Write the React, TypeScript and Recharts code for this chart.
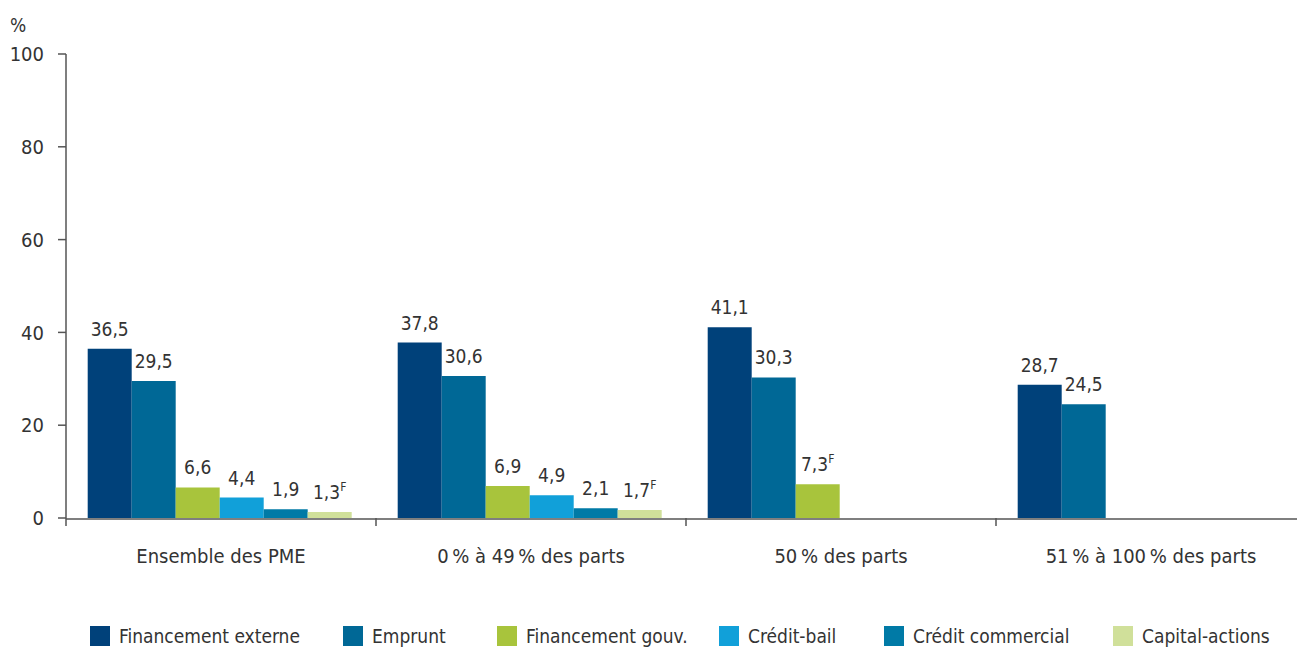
import { BarChart, Bar, XAxis, YAxis, Legend, LabelList } from 'recharts'

const categories = ['Ensemble des PME', '0\u202f% à 49\u202f% des parts', '50\u202f% des parts', '51\u202f% à 100\u202f% des parts']
const seriesNames = ['Financement externe', 'Emprunt', 'Financement gouv.', 'Crédit-bail', 'Crédit commercial', 'Capital-actions']
const financementExterne = [36.5, 37.8, 41.1, 28.7]
const emprunt = [29.5, 30.6, 30.3, 24.5]
const financementGouv = [6.6, 6.9, 7.3, null]
const creditBail = [4.4, 4.9, null, null]
const creditCommercial = [1.9, 2.1, null, null]
const capitalActions = [1.3, 1.7, null, null]
// "F" = estimation à utiliser avec prudence
const gouvFlags = [false, false, true, false]
const capitalFlags = [true, true, false, false]
const yTicks = [0, 20, 40, 60, 80, 100]
const boundaryTicks = [0, 1, 2, 3, 4]

const colors = ['#00417a', '#006896', '#a8c43c', '#11a0d9', '#007aa6', '#d0e09a']
const legendWidths = [253, 154, 222, 165, 229, 180]
const FONT = '"Liberation Sans Narrow", "DejaVu Sans Condensed", "Roboto", sans-serif'
const TEXT = '#333333'
const AXIS = '#555555'

const seriesValues = [financementExterne, emprunt, financementGouv, creditBail, creditCommercial, capitalActions]
const seriesFlags = [null, null, gouvFlags, null, null, capitalFlags]

const data = categories.map((cat, i) => {
  const row: any = { cat, idx: i + 0.5 }
  seriesValues.forEach((vals, s) => {
    row['s' + s] = vals[i]
  })
  return row
})

const fmt = (v: number) => v.toFixed(1).replace('.', ',')

const makeLabel = (flags: boolean[] | null) => (props: any) => {
  const { x, y, width, value, index } = props
  if (value == null) return null
  const flag = flags ? flags[index] : false
  return (
    <text x={x + width / 2} y={y - 13} textAnchor="middle" fontFamily={FONT} fontSize={19} fill={TEXT}>
      {fmt(value)}
      {flag && (
        <tspan fontSize={12} dy={-8}>F</tspan>
      )}
    </text>
  )
}

const CategoryTick = (props: any) => {
  const { x, y, payload } = props
  return (
    <text x={x} y={y} dy={14} textAnchor="middle" fontFamily={FONT} fontSize={20} fill={TEXT}>
      {payload.value}
    </text>
  )
}

const EmptyTick = () => <g />

const LegendContent = () => (
  <div style={{ display: 'flex', paddingLeft: 90, alignItems: 'center', height: 24, marginTop: 6 }}>
    {seriesNames.map((name, s) => (
      <div key={name} style={{ display: 'flex', alignItems: 'center', width: legendWidths[s], flexShrink: 0 }}>
        <div style={{ width: 20, height: 20, background: colors[s], marginRight: 9, flexShrink: 0 }} />
        <span style={{ fontFamily: FONT, fontSize: 19, color: TEXT, whiteSpace: 'nowrap' }}>{name}</span>
      </div>
    ))}
  </div>
)

export default function App() {
  return (
    <div style={{ position: 'absolute', left: 0, top: 0, width: 1297, height: 648, overflow: 'hidden', background: '#fff' }}>
      <BarChart
        width={1306}
        height={648}
        data={data}
        margin={{ top: 54, right: 0, left: 0, bottom: 0 }}
        barCategoryGap="7%"
        barGap={0}
      >
        <XAxis
          xAxisId="a"
          type="number"
          dataKey="idx"
          domain={[0, 4]}
          ticks={boundaryTicks}
          allowDataOverflow
          height={1}
          axisLine={false}
          tick={<EmptyTick />}
          tickLine={{ stroke: AXIS, strokeWidth: 1.5 }}
          tickSize={8}
        />
        <XAxis
          xAxisId="c"
          dataKey="cat"
          height={99}
          axisLine={{ stroke: AXIS, strokeWidth: 1.5 }}
          tickLine={false}
          tickSize={0}
          tick={<CategoryTick />}
          tickMargin={30}
          interval={0}
        />
        <YAxis
          width={66}
          domain={[0, 100]}
          ticks={yTicks}
          interval={0}
          axisLine={{ stroke: AXIS, strokeWidth: 1.5 }}
          tickLine={{ stroke: AXIS, strokeWidth: 1.5 }}
          tickSize={8}
          tickMargin={14}
          tick={{ fontFamily: FONT, fontSize: 20, fill: TEXT }}
          label={{
            content: (p: any) => (
              <text x={10} y={p.viewBox.y - 22} fontFamily={FONT} fontSize={19} fill={TEXT}>%</text>
            ),
          }}
        />
        <Legend verticalAlign="bottom" height={30} content={<LegendContent />} />
        {seriesNames.map((name, s) => (
          <Bar
            key={name}
            xAxisId="c"
            dataKey={'s' + s}
            name={name}
            fill={colors[s]}
            legendType="square"
            isAnimationActive={false}
          >
            <LabelList dataKey={'s' + s} content={makeLabel(seriesFlags[s])} />
          </Bar>
        ))}
      </BarChart>
    </div>
  )
}
